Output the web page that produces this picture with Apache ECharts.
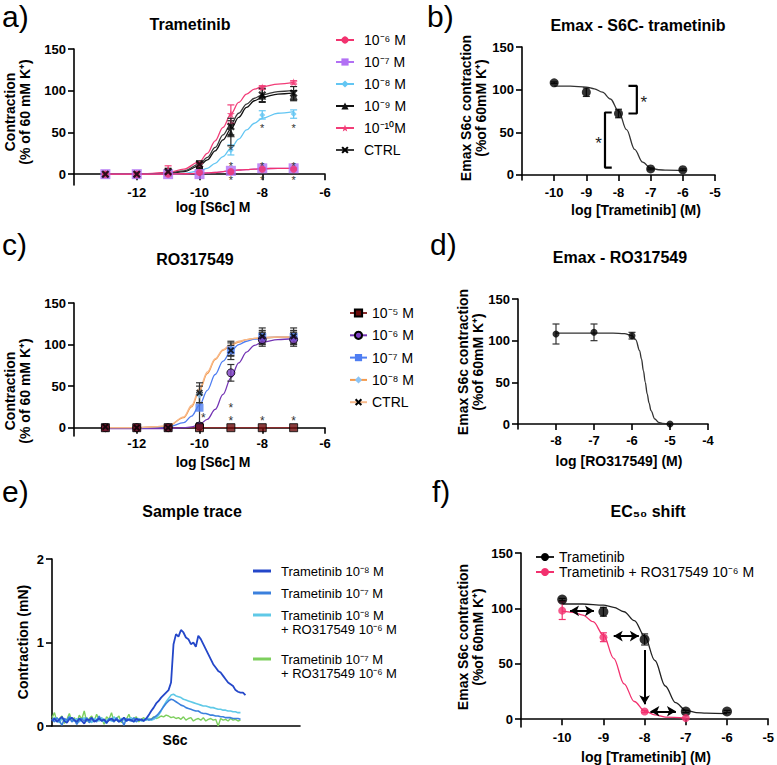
<!DOCTYPE html>
<html><head><meta charset="utf-8">
<script src="https://cdn.jsdelivr.net/npm/echarts@6/dist/echarts.min.js"></script>
<style>html,body{margin:0;padding:0;background:#fff;width:777px;height:765px;overflow:hidden;position:relative}</style>
</head><body>
<script>
const FONT = '"Liberation Sans", Arial, Helvetica, sans-serif';

// ---------------- Panel a: Trametinib ----------------
const aX = [-13,-12,-11,-10,-9,-8,-7];
const aM6 = [0,0,0,2,3,6,6];
const aM7 = [0,0,0,0,4,7,7];
const aM8 = [0,0,1,3,29,71,72];
const aM9 = [0,0,2,10,49,94,94];
const aM10 = [0,0,5,12,72,104,110];
const aCtrl = [0,0,3,12,57,95,97];
const aM6E = [0,0,0,1,1,1,1];
const aM7E = [0,0,0,0,1,1,1];
const aM8E = [0,0,1,1,6,5,5];
const aM9E = [0,0,2,3,15,8,6];
const aM10E = [0,0,5,3,11,2,2];
const aCtrlE = [0,0,4,4,10,8,8];
const aCurveX = [-13,-12,-11,-10.5,-10,-9.75,-9.5,-9.25,-9,-8.75,-8.5,-8.25,-8,-7.5,-7];
const aCurveM6 = [0,0,0,0.5,1,1.5,2,3,4,5,5.5,6,6.5,7,7];
const aCurveM7 = [0,0,0,0.5,1,1.5,2,3,4,5,5.5,6,6.5,7,7];
const aCurveM8 = [0,0,0,1,4,7,13,21,31,42,53,61,67,73,75];
const aCurveM9 = [0,0,1,3,10,17,28,41,54,68,80,88,92,96,97];
const aCurveM10 = [0,0,2,6,15,25,40,56,72,86,96,102,105,108,110];
const aCurveCtrl = [0,0,1,4,12,20,32,47,60,73,84,91,95,99,100];
const aStars = [[-9,32],[-9,13],[-9,-4],[-8,58],[-8,13],[-8,-4],[-7,58],[-7,13],[-7,-4]];
const aLegend = ['10⁻⁶ M','10⁻⁷ M','10⁻⁸ M','10⁻⁹ M','10⁻¹⁰M','CTRL'];
const concTicks = [-12,-10,-8,-6];
const emaxTicks = [0,50,100,150];

// ---------------- Panel b: Emax - S6C- trametinib ----------------
const bX = [-10,-9,-8,-7,-6];
const bY = [108,97,72,7,6];
const bE = [1,5,5,1,1];
const bCurveX = [-10,-9.5,-9,-8.75,-8.5,-8.25,-8,-7.75,-7.5,-7.25,-7,-6.75,-6.5,-6];
const bCurveY = [104,104,103,101,97,89,75,53,30,15,8,6,5.5,5];
const bBracket1 = [[-7.69,104.4],[-7.43,104.4],[-7.43,72],[-7.69,72]];
const bBracket2 = [[-8.21,73.2],[-8.42,73.2],[-8.42,8.6],[-8.21,8.6]];
const bStars = [[-7.21,89],[-8.62,41]];
const tramTicks = [-10,-9,-8,-7,-6,-5];

// ---------------- Panel c: RO317549 ----------------
const cX = [-13,-12,-11,-10,-9,-8,-7];
const cM5 = [0,0,0,0,0,0,0];
const cM6 = [0,0,0,2,66,106,106];
const cM7 = [0,0,0,24,93,109,109];
const cM8 = [0,0,0,40,94,109,109];
const cCtrl = [1,0,0,42,93,110,110];
const cM5E = [0,0,0,0,0,0,0];
const cM6E = [0,0,0,1,10,8,8];
const cM7E = [0,0,0,18,6,6,6];
const cM8E = [0,0,0,10,8,8,8];
const cCtrlE = [1,1,1,12,11,10,10];
const cCurveX = [-13,-12,-11,-10.5,-10.25,-10,-9.75,-9.5,-9.25,-9,-8.75,-8.5,-8.25,-8,-7.5,-7];
const cCurveM5 = [0,0,0,0,0,0,0,0,0,0,0,0,0,0,0,0];
const cCurveM6 = [-1,-1,-1,0,1,4,10,22,40,60,78,91,99,103,106,107];
const cCurveM7 = [0,0,1,6,14,27,45,64,80,92,100,104,106.5,108,109,109];
const cCurveM8 = [0,0,2,12,25,45,65,82,93,99,103,106,107.5,108,109,109];
const cCurveCtrl = [0,0,2,13,27,47,67,83,94,100,104,106,107.5,108.5,109,109];
const cStars = [[-9.88,15],[-9,27],[-9,11],[-8,11],[-7,11]];
const cLegend = ['10⁻⁵ M','10⁻⁶ M','10⁻⁷ M','10⁻⁸ M','CTRL'];

// ---------------- Panel d: Emax - RO317549 ----------------
const dX = [-8,-7,-6,-5];
const dY = [108,110,106,0];
const dE = [12,10,4,0];
const dCurveX = [-8,-7,-6.5,-6.2,-6,-5.9,-5.8,-5.75,-5.7,-5.65,-5.6,-5.55,-5.5,-5.4,-5.3,-5.2,-5];
const dCurveY = [109,109,109,108.5,106,101,88,78,64,50,36,25,16,6,2,0.8,0];
const roTicks = [-8,-7,-6,-5,-4];

// ---------------- Panel e: Sample trace ----------------
const eTrace1 = [0.06,0.09,0.05,0.08,0.11,0.06,0.04,0.08,0.10,0.07,
  0.05,0.09,0.06,0.03,0.08,0.07,0.10,0.05,0.07,0.09,
  0.06,0.08,0.04,0.07,0.09,0.06,0.08,0.05,0.07,0.10,
  0.06,0.08,0.07,0.05,0.09,0.07,0.08,0.06,
  0.09,0.13,0.18,0.22,0.27,0.30,0.34,0.37,0.40,0.43,0.52,
  0.98,1.10,1.07,1.15,1.12,1.06,1.04,0.98,1.00,0.95,
  1.08,1.04,0.98,0.92,0.86,0.80,0.74,0.70,0.66,0.64,
  0.60,0.56,0.52,0.50,0.48,0.43,0.41,0.40,0.40,0.37];
const eTrace2 = [0.08,0.05,0.10,0.06,0.01,0.09,0.07,0.11,0.05,0.08,
  0.02,0.07,0.09,0.06,0.10,0.04,0.08,0.07,0.05,0.12,
  0.06,0.08,0.03,0.09,0.07,0.05,0.10,0.06,0.08,0.01,
  0.09,0.07,0.06,0.10,0.05,0.08,0.07,0.06,0.09,0.07,
  0.08,0.10,0.12,
  0.15,0.19,0.23,0.27,0.30,0.32,0.31,0.29,0.27,0.25,
  0.24,0.22,0.21,0.20,0.19,0.18,0.18,0.16,0.15,0.15,
  0.14,0.13,0.13,0.12,0.12,0.11,0.11,0.10,0.10,0.10,
  0.09,0.09,0.09,0.08];
const eTrace3 = [0.07,0.10,0.06,0.04,0.09,0.08,0.05,0.11,0.07,0.06,
  0.09,0.05,0.08,0.10,0.06,0.07,0.04,0.09,0.08,0.06,
  0.10,0.05,0.07,0.08,0.06,0.11,0.07,0.05,0.09,0.07,
  0.06,0.08,0.10,0.05,0.07,0.09,0.06,0.08,0.07,0.09,
  0.07,0.08,0.10,
  0.13,0.18,0.24,0.29,0.33,0.37,0.38,0.36,0.35,0.34,
  0.32,0.31,0.30,0.29,0.28,0.27,0.26,0.25,0.24,0.24,
  0.23,0.22,0.22,0.21,0.20,0.20,0.19,0.19,0.18,0.18,
  0.17,0.17,0.16,0.16];
const eTrace4 = [0.10,0.16,0.05,0.09,0.12,0.03,0.08,0.15,0.06,0.10,
  0.04,0.13,0.08,0.18,0.05,0.09,0.12,0.06,0.14,0.07,
  0.10,0.02,0.11,0.08,0.16,0.05,0.09,0.12,0.04,0.10,
  0.08,0.14,0.06,0.09,0.11,0.05,0.08,0.10,0.07,0.09,
  0.08,0.11,0.09,0.10,0.12,0.11,0.13,0.12,0.10,0.11,
  0.09,0.10,0.08,0.11,0.07,0.09,0.10,0.06,0.08,0.09,
  0.07,0.10,0.06,0.08,0.09,0.07,0.08,0.00,0.09,0.07,
  0.08,0.06,0.09,0.07,0.08,0.06,0.07];
const eLegend = [['Trametinib 10⁻⁸ M'],['Trametinib 10⁻⁷ M'],['Trametinib 10⁻⁸ M','+ RO317549 10⁻⁶ M'],['Trametinib 10⁻⁷ M','+ RO317549 10⁻⁶ M']];
const traceTicks = [0,1,2];

// ---------------- Panel f: EC50 shift ----------------
const fXT = [-10,-9,-8,-7,-6];
const fYT = [108,97,72,7,7];
const fET = [1,4,5,1,1];
const fXP = [-10,-9,-8,-7];
const fYP = [98,74,7,1];
const fEP = [8,4,1,0];
const fCurveXT = [-10,-9.5,-9,-8.75,-8.5,-8.25,-8,-7.75,-7.5,-7.25,-7,-6.75,-6.5,-6];
const fCurveYT = [104,104,103,101,97,89,75,53,30,15,8,6,5.5,5];
const fCurveXP = [-10,-9.75,-9.5,-9.25,-9,-8.75,-8.5,-8.25,-8,-7.75,-7.5,-7];
const fCurveYP = [97.5,96.5,94,88,76,55,32,16,7.5,4,2,1];
const fArrowsBoth = [[[-9.81,97.8],[-9.23,97.8]],[[-8.75,75],[-8.14,75]],[[-7.86,7.2],[-7.24,7.2]]];
const fArrowDown = [[-8,62.5],[-8,13.6]];
const fLegend = ['Trametinib','Trametinib + RO317549 10⁻⁶ M'];

// ---------------- helpers ----------------
const XMARK = 'path://M2,0 L5,3 L8,0 L10,2 L7,5 L10,8 L8,10 L5,7 L2,10 L0,8 L3,5 L0,2 Z';
const STAR = 'path://M5,0 L6.2,3.5 L10,3.8 L7,6.1 L8.1,10 L5,7.8 L1.9,10 L3,6.1 L0,3.8 L3.8,3.5 Z';
const pts = (xs, ys) => xs.map((x, i) => [x, ys[i]]);

function xAx(min, max, ticks, margin) {
  return {type:'value', min, max,
    axisLine:{show:true, onZero:true, lineStyle:{color:'#000', width:1.6}},
    axisTick:{show:true, inside:false, length:6, customValues:ticks, lineStyle:{color:'#000', width:1.6}},
    axisLabel:{show:true, customValues:ticks, margin:margin, color:'#000', fontWeight:'bold', fontSize:13, fontFamily:FONT},
    splitLine:{show:false}};
}
function xAxBlank(min, max) {
  return {type:'value', min, max,
    axisLine:{show:true, lineStyle:{color:'#000', width:1.6}},
    axisTick:{show:false}, axisLabel:{show:false}, splitLine:{show:false}};
}
function yAx(min, max, ticks) {
  return {type:'value', min, max,
    axisLine:{show:true, onZero:false, lineStyle:{color:'#000', width:1.6}},
    axisTick:{show:true, inside:false, length:6, customValues:ticks, lineStyle:{color:'#000', width:1.6}},
    axisLabel:{show:true, customValues:ticks, margin:8, color:'#000', fontWeight:'bold', fontSize:13, fontFamily:FONT},
    splitLine:{show:false}};
}
function curve(name, xs, ys, color, symbol, size, itemStyle, z) {
  return {type:'line', name, data:pts(xs, ys), showSymbol:false, symbol, symbolSize:size,
    smooth:0.35, smoothMonotone:'x', silent:true, z:z || 2,
    lineStyle:{color, width:1.3}, itemStyle:Object.assign({color}, itemStyle || {})};
}
function scat(xs, ys, symbol, size, itemStyle, z) {
  return {type:'scatter', data:pts(xs, ys), symbol, symbolSize:size, itemStyle, z:z || 4, silent:true};
}
function errBars(xs, ys, es, color, z) {
  return {type:'custom', silent:true, z:z || 3, data:xs.map((x, i) => [x, ys[i], es[i]]), encode:{x:0, y:1},
    renderItem:(p, api) => {
      const x = api.value(0), y = api.value(1), e = api.value(2);
      if (!e) return null;
      const t = api.coord([x, y + e]), b = api.coord([x, y - e]), w = 3.5;
      const st = {stroke:color, lineWidth:1.2};
      return {type:'group', children:[
        {type:'line', shape:{x1:t[0], y1:t[1], x2:b[0], y2:b[1]}, style:st},
        {type:'line', shape:{x1:t[0]-w, y1:t[1], x2:t[0]+w, y2:t[1]}, style:st},
        {type:'line', shape:{x1:b[0]-w, y1:b[1], x2:b[0]+w, y2:b[1]}, style:st}]};
    }};
}
function stars(list, size, color) {
  return {type:'custom', silent:true, z:6, data:list, encode:{x:0, y:1},
    renderItem:(p, api) => {
      const c = api.coord([api.value(0), api.value(1)]);
      return {type:'text', x:c[0], y:c[1] + size * 0.22,
        style:{text:'*', fontSize:size, fontFamily:FONT, fill:color, textAlign:'center', textVerticalAlign:'middle'}};
    }};
}
function txt(x, y, text, size, weight, extra, styleExtra) {
  return Object.assign({type:'text', x, y, silent:true, z:100,
    style:Object.assign({text, fontSize:size, fontWeight:weight || 'normal', fontFamily:FONT, fill:'#000',
      textAlign:'center', textVerticalAlign:'middle'}, styleExtra || {})}, extra || {});
}
function yName(x, y, text) {
  return txt(x, y, text, 14, 'bold', {rotation:Math.PI / 2}, {lineHeight:15});
}
function mk(opt, bg) {
  const d = document.createElement('div');
  d.style.cssText = 'position:absolute;left:0;top:0;width:777px;height:765px;';
  document.body.appendChild(d);
  const c = echarts.init(d, null, {renderer:'svg', width:777, height:765});
  opt.animation = false;
  opt.backgroundColor = bg || 'transparent';
  c.setOption(opt);
}

// ---------------- chart a ----------------
const colA = {m6:'#f2336f', m7:'#b270f4', m8:'#63c6f3', m9:'#111111', m10:'#f23d78', ctrl:'#3a3a3a'};
mk({
  grid:{left:74, top:49, width:251, height:136},
  xAxis:xAx(-14, -6, concTicks, 1),
  yAxis:yAx(-13, 150, emaxTicks),
  legend:{orient:'vertical', left:330, top:27, itemWidth:18, itemHeight:9, itemGap:6, selectedMode:false,
    textStyle:{fontSize:14, fontFamily:FONT, color:'#000', lineHeight:16, padding:[0,0,0,5]}, data:aLegend},
  series:[
    curve(aLegend[2], aCurveX, aCurveM8, colA.m8, 'diamond', 7),
    curve(aLegend[3], aCurveX, aCurveM9, colA.m9, 'triangle', 8),
    curve(aLegend[4], aCurveX, aCurveM10, colA.m10, STAR, 8),
    curve(aLegend[5], aCurveX, aCurveCtrl, colA.ctrl, XMARK, 7, {color:'#000'}),
    curve(aLegend[1], aCurveX, aCurveM7, colA.m7, 'rect', 9),
    curve(aLegend[0], aCurveX, aCurveM6, colA.m6, 'circle', 6),
    errBars(aX, aM8, aM8E, colA.m8), errBars(aX, aM9, aM9E, '#222'), errBars(aX, aM10, aM10E, colA.m10),
    errBars(aX, aCtrl, aCtrlE, '#222'), errBars(aX, aM7, aM7E, colA.m7), errBars(aX, aM6, aM6E, colA.m6),
    scat(aX, aM8, 'diamond', 6, {color:colA.m8}, 4),
    scat(aX, aM9, 'triangle', 8, {color:colA.m9}, 4),
    scat(aX, aM10, STAR, 8, {color:colA.m10}, 4),
    scat(aX, aM7, 'rect', 10, {color:colA.m7}, 4),
    scat(aX, aM6, 'circle', 7, {color:colA.m6}, 5),
    scat(aX, aCtrl, XMARK, 8, {color:'#000'}, 5),
    stars(aStars, 11, '#333')
  ],
  graphic:[
    txt(2, 16, 'a)', 30, 'normal', null, {textAlign:'left'}),
    txt(190, 24, 'Trametinib', 16, 'bold'),
    txt(213, 207, 'log [S6c] M', 14, 'bold'),
    yName(17, 112, 'Contraction\n(% of 60 mM K⁺)')
  ]
}, '#ffffff');

// ---------------- chart b ----------------
mk({
  grid:{left:522, top:47, width:193, height:133},
  xAxis:xAx(-11, -5, tramTicks, 6),
  yAxis:yAx(-6, 150, emaxTicks),
  series:[
    curve('fit', bCurveX, bCurveY, '#333', 'circle', 8),
    errBars(bX, bY, bE, '#222'),
    scat(bX, bY, 'circle', 9, {color:'#000'}),
    {type:'line', data:bBracket1, symbol:'none', silent:true, z:5, lineStyle:{color:'#000', width:2.2}},
    {type:'line', data:bBracket2, symbol:'none', silent:true, z:5, lineStyle:{color:'#000', width:2.2}},
    stars(bStars, 17, '#222')
  ],
  graphic:[
    txt(427, 16, 'b)', 30, 'normal', null, {textAlign:'left'}),
    txt(638, 25, 'Emax - S6C- trametinib', 16, 'bold'),
    txt(636, 210, 'log [Trametinib] (M)', 14, 'bold'),
    yName(473, 108, 'Emax S6c contraction\n(%of 60mM K⁺)')
  ]
});

// ---------------- chart c ----------------
const colC = {m5:'#8a2d2d', m6:'#7434b4', m7:'#4f7ef2', m8:'#f59a4b', m8pt:'#8cc4f5', ctrl:'#f7b98b'};
mk({
  grid:{left:74, top:303, width:251, height:133},
  xAxis:xAx(-14, -6, concTicks, 1),
  yAxis:yAx(-10, 150, emaxTicks),
  legend:{orient:'vertical', left:344, top:300, itemWidth:17, itemHeight:9, itemGap:6.3, selectedMode:false,
    textStyle:{fontSize:14, fontFamily:FONT, color:'#000', lineHeight:16, padding:[0,0,0,0]}, data:cLegend},
  series:[
    curve(cLegend[0], cCurveX, cCurveM5, colC.m5, 'rect', 8, {color:'#6b0b0b', borderColor:'#000', borderWidth:1}),
    curve(cLegend[1], cCurveX, cCurveM6, colC.m6, 'circle', 8, {color:'#7d3fc4', borderColor:'#000', borderWidth:1}),
    curve(cLegend[2], cCurveX, cCurveM7, colC.m7, 'rect', 8, {color:colC.m7}),
    curve(cLegend[3], cCurveX, cCurveM8, colC.m8, 'diamond', 8, {color:colC.m8pt}),
    curve(cLegend[4], cCurveX, cCurveCtrl, colC.ctrl, XMARK, 7, {color:'#000'}),
    errBars(cX, cM6, cM6E, '#333'), errBars(cX, cM7, cM7E, '#333'), errBars(cX, cM8, cM8E, '#333'),
    errBars(cX, cCtrl, cCtrlE, '#333'),
    scat(cX, cM8, 'diamond', 8, {color:colC.m8pt}, 4),
    scat(cX, cM7, 'rect', 8, {color:colC.m7}, 4),
    scat(cX, cM6, 'circle', 8, {color:'#7d3fc4', borderColor:'#000', borderWidth:1}, 4),
    scat(cX, cM5, 'rect', 8, {color:'#6b0b0b', borderColor:'#000', borderWidth:1}, 5),
    scat(cX, cCtrl, XMARK, 7, {color:'#000'}, 5),
    stars(cStars, 12, '#333')
  ],
  graphic:[
    txt(2, 244, 'c)', 30, 'normal', null, {textAlign:'left'}),
    txt(195, 259, 'RO317549', 16, 'bold'),
    txt(213, 462, 'log [S6c] M', 14, 'bold'),
    yName(17, 391, 'Contraction\n(% of 60 mM K⁺)')
  ]
});

// ---------------- chart d ----------------
mk({
  grid:{left:518, top:299, width:190, height:130},
  xAxis:xAx(-9, -4, roTicks, 5),
  yAxis:yAx(-6, 150, emaxTicks),
  series:[
    curve('fit', dCurveX, dCurveY, '#333', 'circle', 7),
    errBars(dX, dY, dE, '#333'),
    scat(dX, dY, 'circle', 7, {color:'#000'})
  ],
  graphic:[
    txt(430, 244, 'd)', 30, 'normal', null, {textAlign:'left'}),
    txt(620, 257, 'Emax - RO317549', 16, 'bold'),
    txt(619, 461, 'log [RO317549] (M)', 14, 'bold'),
    yName(470, 362, 'Emax S6c contraction\n(%of 60mM K⁺)')
  ]
});

// ---------------- chart e ----------------
const colE = ['#2447c9', '#3b80dd', '#5fc9e7', '#7dcf5d'];
const eLegendY = [[571], [593], [615, 629], [659, 673]];
const eGraphic = [
  txt(2, 491, 'e)', 30, 'normal', null, {textAlign:'left'}),
  txt(192, 511, 'Sample trace', 16, 'bold'),
  txt(175, 740, 'S6c', 14, 'bold'),
  txt(23, 642, 'Contraction (mN)', 14, 'bold', {rotation:Math.PI / 2})
];
eLegend.forEach((lines, k) => {
  eGraphic.push({type:'line', silent:true, shape:{x1:253, y1:eLegendY[k][0], x2:271, y2:eLegendY[k][0]},
    style:{stroke:colE[k], lineWidth:3}});
  lines.forEach((s, j) => eGraphic.push(txt(281, eLegendY[k][j], s, 13, 'normal', null, {textAlign:'left'})));
});
const traceSeries = (arr, color, w, z) => ({type:'line', data:arr.map((v, i) => [i, v]), symbol:'none', silent:true, z,
  lineStyle:{color, width:w}});
mk({
  grid:{left:52, top:559, width:248, height:167},
  xAxis:xAxBlank(0, 100),
  yAxis:yAx(0, 2, traceTicks),
  series:[
    traceSeries(eTrace4, colE[3], 1.4, 2),
    traceSeries(eTrace3, colE[2], 1.6, 3),
    traceSeries(eTrace2, colE[1], 1.6, 4),
    traceSeries(eTrace1, colE[0], 1.8, 5)
  ],
  graphic:eGraphic
});

// ---------------- chart f ----------------
const markArrows = {silent:true, symbol:['arrow', 'arrow'], symbolSize:[8, 9], precision:3,
  lineStyle:{color:'#000', width:2, type:'solid'}, label:{show:false}, emphasis:{disabled:true},
  data:fArrowsBoth.map(a => [{coord:a[0]}, {coord:a[1]}]).concat([[{coord:fArrowDown[0], symbol:'none'}, {coord:fArrowDown[1], symbol:'arrow'}]])};
mk({
  grid:{left:521, top:553, width:249, height:174},
  xAxis:xAx(-11, -5, tramTicks, 4),
  yAxis:yAx(-7, 150, emaxTicks),
  legend:{orient:'vertical', left:530, top:545, itemWidth:18, itemHeight:10, itemGap:1, selectedMode:false,
    textStyle:{fontSize:14, fontFamily:FONT, color:'#000', lineHeight:14, padding:[0,0,0,0]}, data:fLegend},
  series:[
    curve(fLegend[0], fCurveXT, fCurveYT, '#222', 'circle', 10, {color:'#000'}),
    Object.assign(curve(fLegend[1], fCurveXP, fCurveYP, '#f2306e', 'circle', 8), {markLine:markArrows}),
    errBars(fXT, fYT, fET, '#222'),
    errBars(fXP, fYP, fEP, '#f2306e'),
    scat(fXT, fYT, 'circle', 10, {color:'#000'}),
    scat(fXP, fYP, 'circle', 8, {color:'#f2306e'})
  ],
  graphic:[
    txt(432, 491, 'f)', 30, 'normal', null, {textAlign:'left'}),
    txt(648, 511, 'EC₅₀ shift', 16, 'bold'),
    txt(646, 757, 'log [Trametinib] (M)', 14, 'bold'),
    yName(470, 637, 'Emax S6c contraction\n(%of 60mM K⁺)')
  ]
});
</script>
</body></html>
